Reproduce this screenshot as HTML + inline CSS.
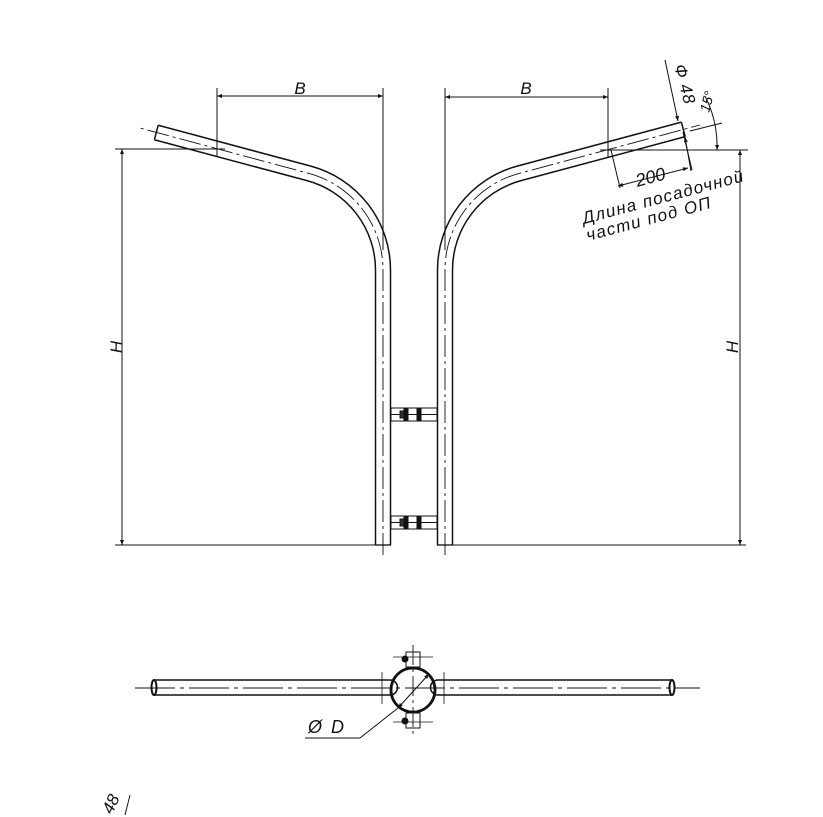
<!DOCTYPE html>
<html><head><meta charset="utf-8"><style>
html,body{margin:0;padding:0;background:#fff}
svg{display:block}
text{font-family:"Liberation Sans","DejaVu Sans",sans-serif;font-style:italic;fill:#111}
</style></head><body>
<svg width="823" height="817" viewBox="0 0 823 817" xmlns="http://www.w3.org/2000/svg">
<defs>
<marker id="a" viewBox="0 0 10 10" refX="10" refY="5" markerWidth="9" markerHeight="5" orient="auto-start-reverse" markerUnits="userSpaceOnUse"><path d="M0,1 L10,5 L0,9z" fill="#111"/></marker>
</defs>
<g fill="none" stroke="#111" stroke-linecap="butt">
<path d="M383,545 L383,270 A100,100 0 0 0 308.9,173.4 L156.3,132.5" stroke-width="16.5"/>
<path d="M383,546 L383,270 A100,100 0 0 0 308.9,173.4 L156.3,132.5" stroke="#fff" stroke-width="13.5"/>
<line x1="158.2" y1="125.3" x2="154.4" y2="139.7" stroke-width="1.5"/>
<line x1="375" y1="545" x2="391" y2="545" stroke-width="1.3"/>
<path d="M383,555 L383,270 A100,100 0 0 0 308.9,173.4 L140,128" stroke-width="0.9" stroke-dasharray="22,4,3,4"/>
<path d="M445,545 L445,270 A100,100 0 0 1 519.1,173.4 L683.3,129.4" stroke-width="16.5"/>
<path d="M445,546 L445,270 A100,100 0 0 1 519.1,173.4 L683.3,129.4" stroke="#fff" stroke-width="13.5"/>
<line x1="685.2" y1="136.6" x2="681.4" y2="122.2" stroke-width="1.5"/>
<line x1="437" y1="545" x2="453" y2="545" stroke-width="1.3"/>
<path d="M445,555 L445,270 A100,100 0 0 1 519.1,173.4 L700,125" stroke-width="0.9" stroke-dasharray="22,4,3,4"/>

<g stroke-width="1">
<rect x="391" y="408" width="46" height="13" fill="#fff"/>
<rect x="391" y="516" width="46" height="13" fill="#fff"/>
<line x1="391" y1="414.5" x2="437" y2="414.5"/>
<line x1="391" y1="522.5" x2="437" y2="522.5"/>
<rect x="404" y="409" width="4" height="11" fill="#111"/><rect x="417" y="409" width="4" height="11" fill="#111"/>
<rect x="404" y="517" width="4" height="11" fill="#111"/><rect x="417" y="517" width="4" height="11" fill="#111"/>
<rect x="400" y="411" width="4" height="7" fill="#333"/><rect x="400" y="519" width="4" height="7" fill="#333"/>
</g>

<g stroke-width="1">
<line x1="217" y1="88" x2="217" y2="157"/>
<line x1="383" y1="88" x2="383" y2="250"/>
<line x1="217" y1="96" x2="383" y2="96" marker-start="url(#a)" marker-end="url(#a)"/>
<line x1="115" y1="149" x2="225" y2="149"/>
<line x1="115" y1="545" x2="375" y2="545"/>
<line x1="122" y1="149" x2="122" y2="545" marker-start="url(#a)" marker-end="url(#a)"/>
<line x1="445" y1="88" x2="445" y2="250"/>
<line x1="608" y1="88" x2="608" y2="157"/>
<line x1="445" y1="97" x2="608" y2="97" marker-start="url(#a)" marker-end="url(#a)"/>
<line x1="600" y1="150" x2="748" y2="150"/>
<line x1="453" y1="545" x2="746" y2="545"/>
<line x1="740" y1="150" x2="740" y2="545" marker-start="url(#a)" marker-end="url(#a)"/>
<line x1="611" y1="150" x2="620" y2="188"/>
<line x1="683" y1="132" x2="692" y2="170"/>
<line x1="618" y1="186" x2="688" y2="168" marker-start="url(#a)" marker-end="url(#a)"/>
<line x1="665" y1="60" x2="678" y2="121" marker-end="url(#a)"/>
<line x1="691" y1="171" x2="685" y2="137" marker-end="url(#a)"/>
<line x1="690" y1="131" x2="722" y2="123"/>
<path d="M705,96 A110,110 0 0 1 717,150" marker-end="url(#a)"/>
</g>
</g>
<text x="300" y="94" font-size="17" text-anchor="middle">B</text>
<text x="526" y="94" font-size="17" text-anchor="middle">B</text>
<text transform="translate(122,347) rotate(-90)" font-size="17" text-anchor="middle">H</text>
<text transform="translate(738,347) rotate(-90)" font-size="17" text-anchor="middle">H</text>
<text transform="translate(652,183) rotate(-15)" font-size="18" text-anchor="middle">200</text>
<text transform="translate(674,66) rotate(75)" font-size="17" letter-spacing="1">Ф 48</text>
<text transform="translate(709,113) rotate(-75)" font-size="14">15°</text>
<text transform="translate(584,224) rotate(-15)" font-size="17" letter-spacing="1.3">Длина посадочной</text>
<text transform="translate(588,241) rotate(-15)" font-size="17" letter-spacing="1.3">части под ОП</text>

<g fill="none" stroke="#111">
<line x1="135" y1="688" x2="700" y2="688" stroke-width="0.9" stroke-dasharray="40,5,4,5"/>
<line x1="413" y1="645" x2="413" y2="735" stroke-width="0.9" stroke-dasharray="20,4,3,4"/>
<path d="M154,680 L390,680 A7.5,7.5 0 0 1 390,695 L154,695" stroke-width="1.5"/>
<path d="M672,680 L438,680 A7.5,7.5 0 0 0 438,695 L672,695" stroke-width="1.5"/>
<ellipse cx="154" cy="687.5" rx="2.5" ry="7.5" stroke-width="2"/>
<ellipse cx="672" cy="687.5" rx="2.5" ry="7.5" stroke-width="2"/>
<line x1="382" y1="672" x2="382" y2="704" stroke-width="0.8"/>
<line x1="444" y1="672" x2="444" y2="704" stroke-width="0.8"/>
<circle cx="413" cy="690" r="22" stroke-width="2.8"/>
<line x1="393" y1="657" x2="433" y2="657" stroke-width="0.8"/>
<line x1="393" y1="722" x2="433" y2="722" stroke-width="0.8"/>
<rect x="406" y="652" width="14" height="15" stroke-width="1"/>
<rect x="406" y="713" width="14" height="15" stroke-width="1"/>
<circle cx="405" cy="659" r="3" fill="#111"/><circle cx="405" cy="721" r="3" fill="#111"/>
<line x1="398" y1="708" x2="429" y2="674" stroke-width="1" marker-start="url(#a)" marker-end="url(#a)"/>
<line x1="398" y1="708" x2="360" y2="738" stroke-width="1"/>
<line x1="360" y1="738" x2="305" y2="738" stroke-width="1"/>
</g>
<text x="308" y="733" font-size="18" letter-spacing="2">Ø D</text>
<text transform="translate(112,815) rotate(-65)" font-size="17">48</text>
<line x1="130" y1="795" x2="125" y2="815" stroke="#111" stroke-width="1"/>
</svg>
</body></html>
